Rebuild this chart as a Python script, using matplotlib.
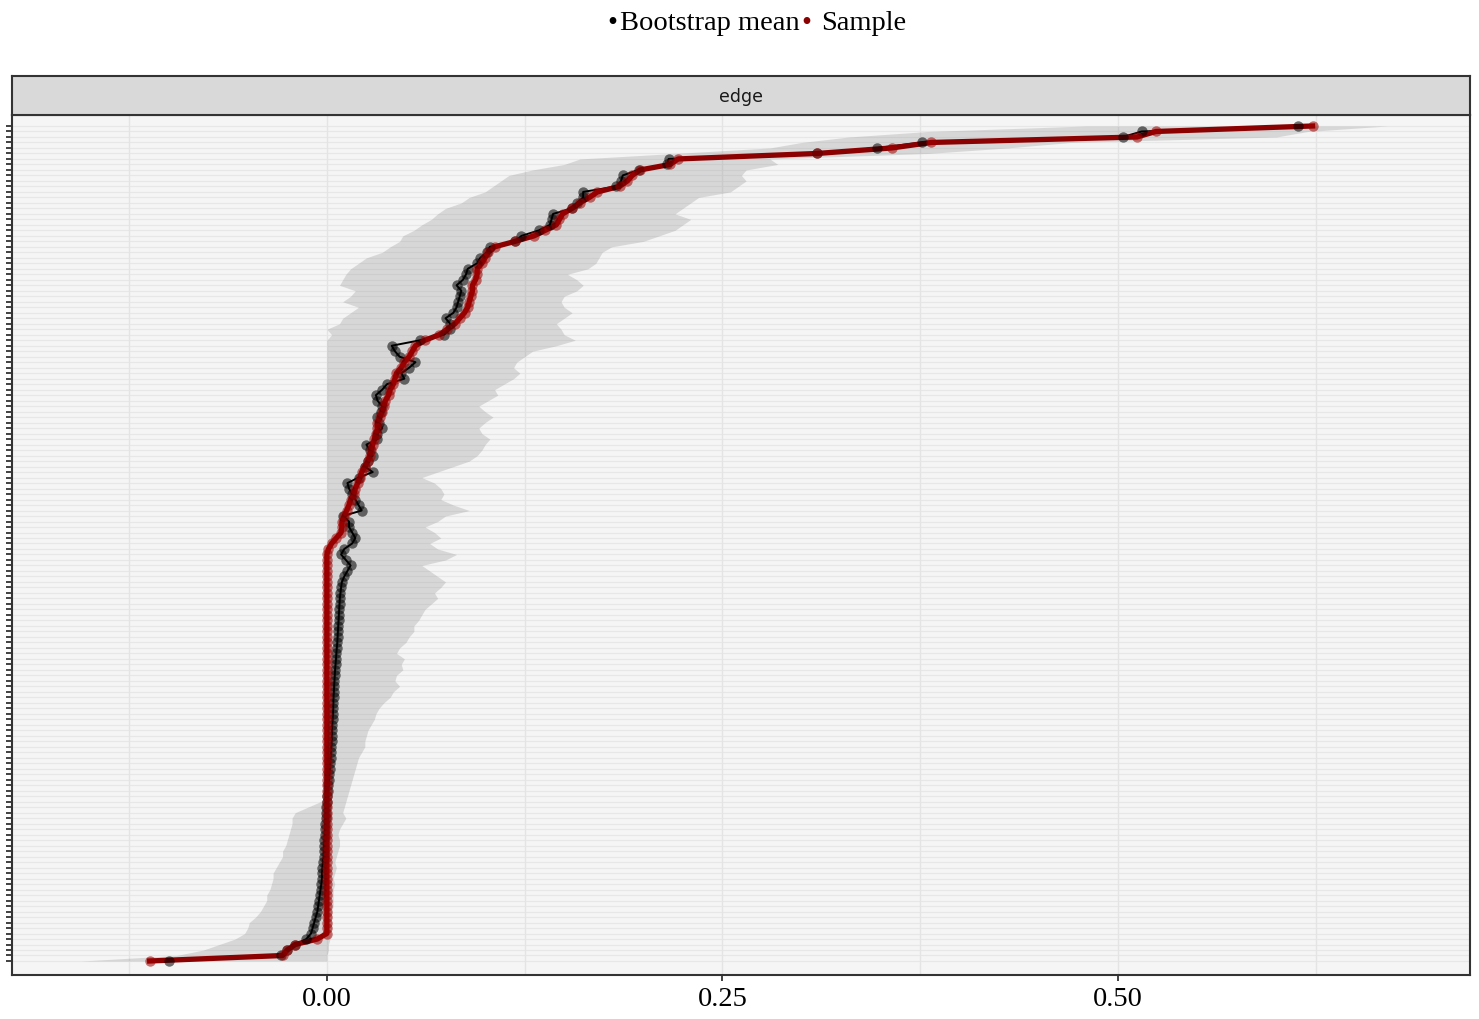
import numpy as np
import matplotlib
matplotlib.use("Agg")
import matplotlib.pyplot as plt

# edges ordered by sample weight, bottom (index 0) to top
sample = [
    -0.112, -0.028, -0.025, -0.020, -0.006, 0.000, 0.000, 0.000, 0.000, 0.000,
    0.000, 0.000, 0.000, 0.000, 0.000, 0.000, 0.000, 0.000, 0.000, 0.000,
    0.000, 0.000, 0.000, 0.000, 0.000, 0.000, 0.000, 0.000, 0.000, 0.000,
    0.000, 0.000, 0.000, 0.000, 0.000, 0.000, 0.000, 0.000, 0.000, 0.000,
    0.000, 0.000, 0.000, 0.000, 0.000, 0.000, 0.000, 0.000, 0.000, 0.000,
    0.000, 0.000, 0.000, 0.000, 0.000, 0.000, 0.000, 0.000, 0.000, 0.000,
    0.000, 0.000, 0.000, 0.000, 0.000, 0.000, 0.000, 0.000, 0.000, 0.000,
    0.000, 0.000, 0.000, 0.000, 0.000, 0.001, 0.003, 0.006, 0.009, 0.0095,
    0.0095, 0.011, 0.0125, 0.014, 0.015, 0.017, 0.018, 0.0195, 0.021, 0.022,
    0.024, 0.026, 0.027, 0.028, 0.029, 0.030, 0.031, 0.032, 0.032, 0.0335,
    0.035, 0.036, 0.037, 0.039, 0.040, 0.042, 0.043, 0.044, 0.047, 0.049,
    0.052, 0.054, 0.056, 0.062, 0.071, 0.076, 0.081, 0.084, 0.087, 0.089,
    0.090, 0.091, 0.092, 0.092, 0.094, 0.095, 0.095, 0.098, 0.100, 0.102,
    0.106, 0.119, 0.131, 0.138, 0.145, 0.147, 0.149, 0.155, 0.160, 0.166,
    0.171, 0.185, 0.190, 0.193, 0.198, 0.217, 0.222, 0.310, 0.357, 0.382,
    0.512, 0.524, 0.623,
]

boot_mean = [
    -0.100, -0.029, -0.025, -0.020, -0.013, -0.010, -0.009, -0.008, -0.007, -0.006,
    -0.0055, -0.005, -0.0045, -0.004, -0.0035, -0.003, -0.003, -0.0028, -0.0025, -0.002,
    -0.002, -0.0018, -0.0016, -0.0014, -0.0012, -0.001, -0.0008, -0.0006, -0.0004, -0.0002,
    0.000, 0.0005, 0.001, 0.0013, 0.0016, 0.002, 0.0022, 0.0024, 0.0026, 0.0028,
    0.003, 0.0031, 0.0032, 0.0034, 0.0036, 0.0038, 0.004, 0.0041, 0.0042, 0.0044,
    0.0046, 0.0048, 0.005, 0.0052, 0.0055, 0.0058, 0.006, 0.0063, 0.0066, 0.0068,
    0.007, 0.0072, 0.0074, 0.0076, 0.0078, 0.008, 0.0082, 0.0086, 0.009, 0.0095,
    0.011, 0.013, 0.015, 0.012, 0.009, 0.011, 0.016, 0.018, 0.016, 0.014,
    0.014, 0.010, 0.022, 0.020, 0.018, 0.016, 0.014, 0.013, 0.020, 0.029,
    0.024, 0.026, 0.029, 0.027, 0.025, 0.032, 0.032, 0.035, 0.033, 0.032,
    0.034, 0.035, 0.032, 0.031, 0.035, 0.038, 0.049, 0.047, 0.052, 0.056,
    0.046, 0.043, 0.041, 0.059, 0.074, 0.078, 0.078, 0.075, 0.080, 0.082,
    0.083, 0.084, 0.085, 0.082, 0.086, 0.088, 0.089, 0.095, 0.097, 0.101,
    0.103, 0.119, 0.123, 0.134, 0.141, 0.142, 0.143, 0.155, 0.158, 0.162,
    0.162, 0.183, 0.186, 0.187, 0.197, 0.215, 0.216, 0.310, 0.348, 0.376,
    0.503, 0.515, 0.614,
]

ci_lower = [
    -0.155, -0.095, -0.078, -0.068, -0.058, -0.052, -0.050, -0.049, -0.045, -0.042,
    -0.040, -0.038, -0.038, -0.036, -0.035, -0.034, -0.034, -0.032, -0.030, -0.028,
    -0.028, -0.026, -0.025, -0.024, -0.023, -0.022, -0.022, -0.020, -0.012, -0.004,
    0.000, 0.000, 0.000, 0.000, 0.000, 0.000, 0.000, 0.000, 0.000, 0.000,
    0.000, 0.000, 0.000, 0.000, 0.000, 0.000, 0.000, 0.000, 0.000, 0.000,
    0.000, 0.000, 0.000, 0.000, 0.000, 0.000, 0.000, 0.000, 0.000, 0.000,
    0.000, 0.000, 0.000, 0.000, 0.000, 0.000, 0.000, 0.000, 0.000, 0.000,
    0.000, 0.000, 0.000, 0.000, 0.000, 0.000, 0.000, 0.000, 0.000, 0.000,
    0.000, 0.000, 0.000, 0.000, 0.000, 0.000, 0.000, 0.000, 0.000, 0.000,
    0.000, 0.000, 0.000, 0.000, 0.000, 0.000, 0.000, 0.000, 0.000, 0.000,
    0.000, 0.000, 0.000, 0.000, 0.000, 0.000, 0.000, 0.000, 0.000, 0.000,
    0.000, 0.000, 0.000, 0.000, 0.003, 0.000, 0.008, 0.010, 0.015, 0.020,
    0.010, 0.015, 0.018, 0.008, 0.010, 0.012, 0.015, 0.020, 0.025, 0.035,
    0.040, 0.046, 0.048, 0.055, 0.060, 0.066, 0.070, 0.075, 0.085, 0.090,
    0.100, 0.105, 0.110, 0.115, 0.130, 0.150, 0.160, 0.220, 0.280, 0.300,
    0.330, 0.380, 0.480,
]

ci_upper = [
    0.000, 0.000, 0.001, 0.001, 0.002, 0.002, 0.003, 0.003, 0.003, 0.003,
    0.004, 0.004, 0.004, 0.004, 0.005, 0.004, 0.005, 0.006, 0.005, 0.006,
    0.007, 0.008, 0.008, 0.007, 0.008, 0.010, 0.012, 0.010, 0.011, 0.012,
    0.013, 0.014, 0.015, 0.016, 0.017, 0.018, 0.019, 0.020, 0.022, 0.024,
    0.024, 0.025, 0.026, 0.028, 0.030, 0.031, 0.033, 0.036, 0.040, 0.042,
    0.046, 0.043, 0.044, 0.048, 0.047, 0.049, 0.044, 0.046, 0.050, 0.052,
    0.055, 0.055, 0.058, 0.060, 0.062, 0.066, 0.070, 0.068, 0.072, 0.075,
    0.070, 0.065, 0.060, 0.075, 0.082, 0.070, 0.065, 0.072, 0.068, 0.062,
    0.070, 0.075, 0.090, 0.080, 0.072, 0.074, 0.072, 0.068, 0.060, 0.070,
    0.080, 0.090, 0.095, 0.098, 0.100, 0.103, 0.098, 0.096, 0.100, 0.105,
    0.100, 0.096, 0.102, 0.108, 0.106, 0.112, 0.118, 0.122, 0.118, 0.120,
    0.125, 0.130, 0.145, 0.157, 0.150, 0.148, 0.145, 0.150, 0.155, 0.150,
    0.148, 0.150, 0.158, 0.162, 0.158, 0.152, 0.165, 0.170, 0.172, 0.174,
    0.180, 0.200, 0.210, 0.220, 0.225, 0.230, 0.220, 0.225, 0.230, 0.235,
    0.255, 0.260, 0.265, 0.262, 0.265, 0.285, 0.280, 0.380, 0.430, 0.470,
    0.600, 0.620, 0.670,
]

x_ticks = [0.0, 0.25, 0.5]
x_ticklabels = ["0.00", "0.25", "0.50"]
minor_grid = [-0.125, 0.125, 0.375, 0.625]

n_edges = len(sample)
pos = np.arange(n_edges)

W, H = 1479, 1020
fig = plt.figure(figsize=(W / 100, H / 100), dpi=100)
fig.patch.set_facecolor("white")

ax = fig.add_axes([12 / W, 1 - 976 / H, 1458 / W, 860 / H])
ax.set_facecolor("#f5f5f5")

# per-edge horizontal grid + vertical grid
for p in pos:
    ax.axhline(p, color="#e7e7e7", lw=0.9, zorder=0)
for g in x_ticks + minor_grid:
    ax.axvline(g, color="#e4e4e4", lw=1.0, zorder=0.5)

# bootstrap CI band
ax.fill_betweenx(pos, ci_lower, ci_upper, color="#808080", alpha=0.25,
                 lw=0, zorder=1)

# lines then points
ax.plot(boot_mean, pos, color="black", lw=1.4, zorder=2)
ax.plot(sample, pos, color="#8b0000", lw=3.8, zorder=3)
ax.plot(boot_mean, pos, "o", color="black", ms=7.5, alpha=0.55, mec="none", zorder=4)
ax.plot(sample, pos, "o", color="#a00000", ms=7.5, alpha=0.55, mec="none", zorder=4)

ax.set_xlim(-0.199, 0.7225)
ax.set_ylim(-2.55, n_edges - 1 + 2.0)

ax.set_yticks(pos)
ax.set_yticklabels([])
ax.tick_params(axis="y", length=4.5, width=1.3, color="#333333")
ax.set_xticks(x_ticks)
ax.set_xticklabels(x_ticklabels, fontfamily="Liberation Serif", fontsize=20.5)
ax.tick_params(axis="x", length=4, width=1.3, color="#333333", pad=4)

for s in ax.spines.values():
    s.set_color("#333333")
    s.set_linewidth(1.5)

# facet strip
strip = fig.add_axes([12 / W, 1 - 116 / H, 1458 / W, 39 / H])
strip.set_facecolor("#d9d9d9")
strip.set_xticks([])
strip.set_yticks([])
for s in strip.spines.values():
    s.set_color("#333333")
    s.set_linewidth(1.5)
strip.text(0.5, 0.5, "edge", ha="center", va="center", fontsize=12.5,
           color="#1a1a1a", transform=strip.transAxes)

# legend on top
ly = 1 - 23 / H
fig.text(612 / W, ly, "\u2022", ha="center", va="center", fontsize=20.5,
         color="black", fontfamily="Liberation Serif")
fig.text(620 / W, ly, "Bootstrap mean", ha="left", va="center", fontsize=20.5,
         color="black", fontfamily="Liberation Serif")
fig.text(806 / W, ly, "\u2022", ha="center", va="center", fontsize=20.5,
         color="#8b0000", fontfamily="Liberation Serif")
fig.text(821 / W, ly, "Sample", ha="left", va="center", fontsize=20.5,
         color="black", fontfamily="Liberation Serif")

fig.savefig("out.png", dpi=100)
